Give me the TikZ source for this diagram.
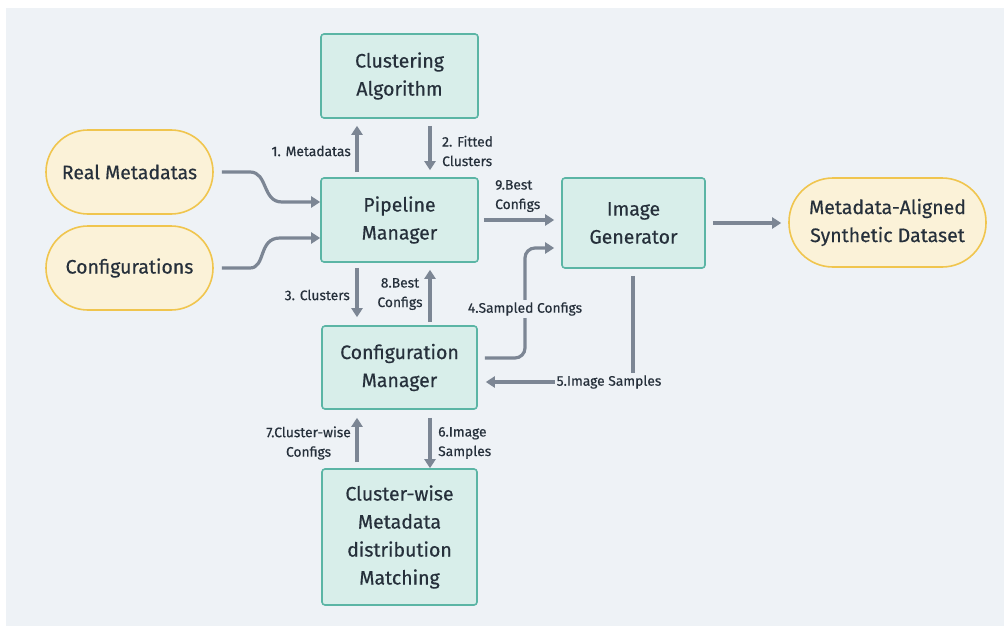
\documentclass[tikz,border=0pt]{standalone}
\usepackage{fontspec}
\setmainfont{Fira Sans}[UprightFeatures={FakeBold=0.45}]
\usetikzlibrary{arrows.meta,calc}

\definecolor{canvas}{HTML}{EEF2F6}
\definecolor{boxfill}{HTML}{D8EEEA}
\definecolor{boxline}{HTML}{5BB5A5}
\definecolor{pillfill}{HTML}{FBF2D8}
\definecolor{pillline}{HTML}{F0C54E}
\definecolor{wire}{HTML}{7C8694}
\definecolor{ink}{HTML}{26303B}

\tikzset{
  stage/.style={draw=boxline, fill=boxfill, line width=1.6pt, rounded corners=3pt,
    inner sep=0pt, align=center, text=ink,
    font=\fontsize{19.5}{28}\selectfont},
  pill/.style={draw=pillline, fill=pillfill, line width=1.6pt, rounded corners=42pt,
    inner sep=0pt, align=center, text=ink,
    font=\fontsize{19.5}{28}\selectfont},
  flow/.style={draw=wire, line width=3.2pt,
    -{Triangle[length=9pt,width=11pt]}},
  tag/.style={text=ink, inner sep=1pt, font=\fontsize{13.8}{19.5}\selectfont},
  tagcut/.style={tag, fill=canvas, inner sep=2pt}
}

\begin{document}
\begin{tikzpicture}[x=1pt,y=-1pt]
  \useasboundingbox (0,0) rectangle (1004,626);
  \fill[canvas] (6,8) rectangle (1004,626);

  % process boxes
  \node[stage, minimum width=157pt, minimum height=84pt] (ca) at (399.5,76) {Clustering\\Algorithm};
  \node[stage, minimum width=157pt, minimum height=84pt] (pm) at (399.5,220) {Pipeline\\Manager};
  \node[stage, minimum width=155pt, minimum height=83pt] (cm) at (399.5,367.5) {Configuration\\Manager};
  \node[stage, minimum width=155pt, minimum height=136pt] (cw) at (399.5,537) {Cluster-wise\\Metadata\\distribution\\Matching};
  \node[stage, minimum width=143pt, minimum height=90pt] (ig) at (633.5,223) {Image\\Generator};

  % inputs and output
  \node[pill, minimum width=167pt, minimum height=84pt] (rm) at (129.5,172) {Real Metadatas};
  \node[pill, minimum width=167pt, minimum height=84pt] (cf) at (129.5,268) {Configurations};
  \node[pill, minimum width=197pt, minimum height=89pt, rounded corners=44pt] (ds) at (887.5,222.5) {Metadata-Aligned\\Synthetic Dataset};

  % column positions of the vertical links
  \coordinate (cl) at (357,0);
  \coordinate (cr) at (430,0);
  \coordinate (bend) at (525,0);
  \coordinate (drop) at (633,0);

  % inputs into the pipeline manager
  \draw[flow] ($(rm.east)+(8,0)$) -- (250,172)
    .. controls (268,172) and (262,202) .. (282,202) -- (pm.west |- 0,202);
  \draw[flow] ($(cf.east)+(8,0)$) -- (250,268)
    .. controls (266,268) and (258,238) .. (280,238) -- (pm.west |- 0,238);

  % pipeline manager <-> clustering algorithm
  \draw[flow, shorten <=5pt, shorten >=7pt] (pm.north -| cl) -- (ca.south -| cl);
  \draw[flow, shorten <=7pt, shorten >=7pt] (ca.south -| cr) -- (pm.north -| cr);
  \node[tag, anchor=east] (l1) at (352,151) {1. Metadatas};
  \node[tag, anchor=west, align=left] (l2) at (441,151) {2. Fitted\\Clusters};

  % pipeline manager <-> configuration manager
  \draw[flow, shorten <=5pt, shorten >=8pt] (pm.south -| cl) -- (cm.north -| cl);
  \draw[flow, shorten <=3pt, shorten >=7pt] (cm.north -| cr) -- (pm.south -| cr);
  \node[tag, anchor=east] (l3) at (351,295) {3. Clusters};
  \node[tag, align=center] (l8) at (400,294) {8.Best\\Configs};

  % pipeline manager -> image generator
  \draw[flow, shorten <=5pt, shorten >=7pt] (pm.east |- 0,220) -- (ig.west |- 0,220);
  \node[tag, anchor=west, align=left] (l9) at (494,196) {9.Best\\Configs};

  % configuration manager -> image generator
  \draw[flow, rounded corners=10pt, shorten <=7pt, shorten >=7pt]
    (cm.east |- 0,358) -| (bend |- 0,248) -- (ig.west |- 0,248);
  \node[tagcut] (l4) at (525,309) {4.Sampled Configs};

  % image generator -> configuration manager
  \draw[flow, shorten <=7pt, shorten >=8pt]
    (ig.south -| drop) -- (drop |- 0,382) -- (cm.east |- 0,382);
  \node[tagcut] (l5) at (609,382) {5.Image Samples};

  % image generator -> synthetic dataset
  \draw[flow, shorten <=7pt, shorten >=7pt] (ig.east |- 0,223) -- (ds.west |- 0,223);

  % configuration manager <-> matching stage
  \draw[flow, shorten <=6pt, shorten >=8pt] (cw.north -| cl) -- (cm.south -| cl);
  \draw[flow, shorten <=8pt, shorten >=0pt] (cm.south -| cr) -- (cw.north -| cr);
  \node[tag, anchor=east, align=center] (l7) at (352,443) {7.Cluster-wise\\Configs};
  \node[tag, anchor=west, align=left] (l6) at (437,443) {6.Image\\Samples};
\end{tikzpicture}
\end{document}
